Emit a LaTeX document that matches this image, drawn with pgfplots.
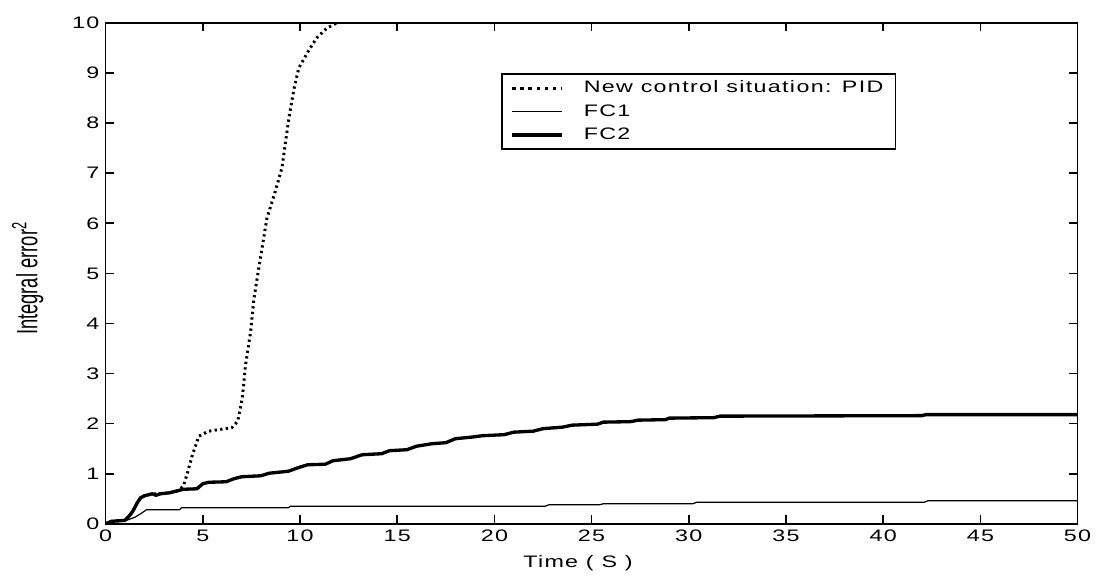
\documentclass[border=0pt]{standalone}
\usepackage{pgfplots}
\pgfplotsset{compat=1.18}
\usepackage{fontspec}
\setmainfont{Liberation Sans}[FakeStretch=1.4, LetterSpace=8]
\newfontfamily\ylabfont{Liberation Sans}

\begin{document}
\begin{tikzpicture}
% page frame: 1097 x 577 px at 0.02cm per px, axis lower left at (106,526)
\path (-2.12cm,-1.02cm) rectangle (19.82cm,10.52cm);
\begin{axis}[
scale only axis,
width=19.52cm, height=10.06cm,
xmin=0, xmax=50, ymin=0, ymax=10,
xtick={0,5,...,50}, ytick={0,1,...,10},
tick align=inside,
major tick length=0.17cm,
axis line style={line width=0.9pt},
every tick/.style={line width=0.9pt, black},
/pgf/number format/assume math mode=true,
tick label style={font=\fontsize{9.5}{11}\selectfont},
xlabel={Time ( S )},
xlabel style={font=\fontsize{9.5}{11}\selectfont, at={(axis description cs:0.486,-0.078)}, anchor=center},
ylabel={\scalebox{1}[1.6]{\ylabfont\fontsize{10.5}{12}\selectfont Integral error\textsuperscript{2}}},
ylabel style={at={(axis description cs:-0.08,0.49)}, anchor=center},
legend style={at={(axis description cs:0.407,0.90)}, anchor=north west,
  draw=black, line width=0.9pt, font=\fontsize{9.5}{11}\selectfont,
  inner xsep=5pt, inner ysep=2pt, row sep=1.2pt},
legend cell align=left,
legend image code/.code={\draw[#1] (0cm,0cm) -- (1cm,0cm); \path (1.33cm,0cm);},
]
\addplot [black, line width=1.7pt, dash pattern=on 1.3pt off 1.9pt, forget plot] table {
x y
0 0
0.3 0.05
1.0 0.07
1.2 0.15
1.4 0.25
1.6 0.4
1.8 0.52
2.0 0.56
2.4 0.6
2.8 0.6
3.3 0.62
3.7 0.66
4.0 0.75
4.2 1.0
4.47 1.38
4.8 1.75
5.3 1.85
6.5 1.92
6.8 2.05
7.03 2.5
7.2 3.17
7.46 3.83
7.63 4.49
7.9 5.15
8.3 6.1
8.7 6.6
9.07 7.1
9.25 7.6
9.43 8.1
9.7 8.7
9.94 9.1
10.45 9.45
10.86 9.7
11.4 9.9
11.9 10.0
12.5 10.3
};
\addlegendimage{black, line width=1.7pt, dash pattern=on 2.2pt off 2.4pt}
\addlegendentry{New control situation: PID\hspace{0.3cm}}
\addplot [black, line width=0.7pt] table {
x y
0 0
0.3 0.05
1.0 0.06
1.5 0.13
1.8 0.2
2.1 0.28
3.8 0.28
3.9 0.32
9.4 0.32
9.5 0.35
22.6 0.35
22.8 0.38
25.4 0.38
25.6 0.40
30.2 0.40
30.4 0.43
42.1 0.43
42.3 0.46
50 0.46
};
\addlegendentry{FC1}
\addplot [black, line width=1.9pt] table {
x y
0 0
0.3 0.05
1.0 0.07
1.2 0.15
1.4 0.25
1.6 0.4
1.8 0.52
2.0 0.56
2.4 0.6
2.6 0.57
2.8 0.6
3.3 0.62
3.7 0.66
4.0 0.69
4.7 0.70
5.0 0.8
5.3 0.83
6.2 0.84
6.6 0.9
7.0 0.94
8.0 0.96
8.4 1.01
9.4 1.05
9.9 1.12
10.4 1.18
11.3 1.19
11.7 1.26
12.6 1.30
13.2 1.38
14.2 1.40
14.6 1.46
15.5 1.48
16.0 1.55
16.8 1.60
17.5 1.62
18.0 1.70
18.8 1.73
19.4 1.76
20.5 1.78
21.0 1.83
22.0 1.85
22.5 1.90
23.5 1.93
24.0 1.97
25.3 1.99
25.6 2.03
27.0 2.04
27.4 2.07
28.8 2.08
29.0 2.11
31.3 2.12
31.6 2.15
42.0 2.16
42.2 2.18
50 2.18
};
\addlegendentry{FC2}
\end{axis}
\end{tikzpicture}
\end{document}
